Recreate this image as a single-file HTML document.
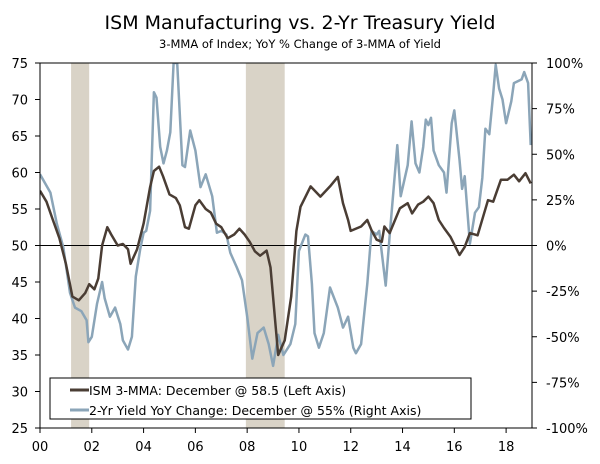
<!DOCTYPE html>
<html><head><meta charset="utf-8"><style>
html,body{margin:0;padding:0;background:#fff;}
svg{display:block;font-family:"DejaVu Sans","Liberation Sans",sans-serif;}
</style></head><body>
<svg id="c" width="600" height="464" viewBox="0 0 600 464">
<text x="300" y="29" text-anchor="middle" font-size="19" fill="#000">ISM Manufacturing vs. 2-Yr Treasury Yield</text>
<text x="300" y="48" text-anchor="middle" font-size="11.5" fill="#000">3-MMA of Index; YoY % Change of 3-MMA of Yield</text>
<defs><clipPath id="pc"><rect x="40" y="63" width="492" height="365"/></clipPath></defs>
<g id="rec"></g><g id="grid"></g><g id="series" clip-path="url(#pc)"></g><g id="axes"></g>
<g>
<rect x="50" y="378" width="421" height="41" fill="#fff" stroke="#000" stroke-width="1"/>
<line x1="70" y1="390" x2="89" y2="390" stroke="#4a3d34" stroke-width="3"/>
<text x="89" y="395" font-size="12.5">ISM 3-MMA: December @ 58.5 (Left Axis)</text>
<line x1="70" y1="410" x2="89" y2="410" stroke="#8ba5b8" stroke-width="3"/>
<text x="89" y="415" font-size="12.5">2-Yr Yield YoY Change: December @ 55% (Right Axis)</text>
</g>
</svg>
<script>
const recessions=[[2001.2,2001.9],[2007.95,2009.45]];
const ismYears=[2000.0,2000.25,2000.5,2000.75,2001.0,2001.25,2001.5,2001.75,2001.9,2002.1,2002.25,2002.4,2002.6,2002.75,2003.0,2003.2,2003.4,2003.5,2003.75,2004.0,2004.25,2004.4,2004.6,2004.75,2005.0,2005.25,2005.4,2005.6,2005.75,2006.0,2006.15,2006.4,2006.6,2006.8,2007.0,2007.25,2007.5,2007.7,2007.9,2008.1,2008.3,2008.5,2008.75,2008.9,2009.1,2009.2,2009.45,2009.7,2009.9,2010.06,2010.45,2010.83,2011.2,2011.5,2011.7,2011.9,2012.0,2012.4,2012.64,2012.8,2013.0,2013.2,2013.3,2013.5,2013.9,2014.2,2014.37,2014.6,2014.8,2015.0,2015.2,2015.4,2015.6,2015.85,2016.2,2016.4,2016.6,2016.9,2017.3,2017.5,2017.8,2018.05,2018.3,2018.5,2018.75,2018.95];
const ismValues=[57.5,56,53.5,51,47.5,43,42.5,43.5,44.7,44,45.5,50,52.5,51.5,50,50.2,49.5,47.5,49.5,53,58,60.2,60.8,59.5,57,56.5,55.5,52.5,52.3,55.5,56.2,55,54.5,53,52.5,51,51.5,52.3,51.5,50.5,49.2,48.6,49.3,47,39,35,37,43,52,55.3,58.1,56.7,58.1,59.4,55.8,53.5,52,52.6,53.5,52.1,50.8,50.5,52.6,51.7,55.1,55.8,54.4,55.6,56,56.7,55.8,53.5,52.4,51.2,48.7,49.8,51.7,51.4,56.2,56,59,59,59.7,58.8,59.9,58.5];
const yldYears=[2000.0,2000.4,2000.65,2000.9,2001.16,2001.35,2001.6,2001.8,2001.87,2002.0,2002.2,2002.4,2002.5,2002.7,2002.9,2003.1,2003.2,2003.4,2003.55,2003.7,2003.87,2004.0,2004.1,2004.25,2004.4,2004.5,2004.64,2004.77,2004.9,2005.03,2005.16,2005.3,2005.5,2005.6,2005.8,2006.0,2006.2,2006.4,2006.65,2006.83,2007.0,2007.2,2007.35,2007.6,2007.8,2008.0,2008.2,2008.4,2008.64,2008.83,2009.0,2009.2,2009.4,2009.67,2009.86,2010.0,2010.25,2010.35,2010.5,2010.6,2010.77,2010.96,2011.2,2011.5,2011.7,2011.9,2012.1,2012.2,2012.4,2012.64,2012.8,2013.0,2013.1,2013.35,2013.5,2013.8,2013.93,2014.2,2014.35,2014.5,2014.65,2014.8,2014.9,2015.0,2015.1,2015.2,2015.4,2015.6,2015.7,2015.9,2016.0,2016.2,2016.3,2016.4,2016.6,2016.8,2016.95,2017.08,2017.2,2017.35,2017.5,2017.6,2017.73,2017.86,2018.0,2018.2,2018.3,2018.6,2018.7,2018.85,2018.95];
const yldValues=[39,29,12,-1,-26,-34,-36,-41,-53,-50,-32,-20,-29,-39,-34,-43,-52,-57,-50,-17,-2,7,8,19,84,81,54,45,52,62,100,100,44,43,63,52,32,39,27,7,8,6,-4,-12,-19,-39,-62,-48,-45,-54,-66,-49,-60,-54,-43,-3,6,5,-21,-48,-56,-48,-23,-34,-45,-39,-56,-59,-54,-21,8,6,8,-22,5,55,27,44,68,45,40,54,69,66,70,52,44,40,29,67,74,47,31,38,1,18,21,37,64,61,83,99,86,80,67,79,89,91,95,89,55];
const leftTicks=[25,30,35,40,45,50,55,60,65,70,75];
const rightTicks=[-100,-75,-50,-25,0,25,50,75,100];
const xTickYears=[2000,2002,2004,2006,2008,2010,2012,2014,2016,2018];
const xTickLabels=["00","02","04","06","08","10","12","14","16","18"];

const X0=40,X1=532,Y0=63,Y1=428;
const xs=y=>X0+(y-2000)/19*(X1-X0);
const yL=v=>Y1-(v-25)/50*(Y1-Y0);
const yR=v=>Y1-(v+100)/200*(Y1-Y0);
const NS="http://www.w3.org/2000/svg";
function mk(tag,attrs,parent){const e=document.createElementNS(NS,tag);for(const k in attrs)e.setAttribute(k,attrs[k]);document.getElementById(parent).appendChild(e);return e;}

recessions.forEach(r=>{
 const e=mk('rect',{x:xs(r[0]),y:Y0,width:xs(r[1])-xs(r[0]),height:Y1-Y0,fill:'#d9d3c7'},'rec');
 
 
});
const zl=mk('line',{x1:X0,x2:X1,y1:yR(0),y2:yR(0),stroke:'#000','stroke-width':1},'grid');



function path(xv,yv,f){return xv.map((x,i)=>(i?'L':'M')+xs(x).toFixed(1)+','+f(yv[i]).toFixed(1)).join('');}
const py=mk('path',{d:path(yldYears,yldValues,yR),fill:'none',stroke:'#8ba5b8','stroke-width':2.5,'stroke-linejoin':'round'},'series');


const pi=mk('path',{d:path(ismYears,ismValues,yL),fill:'none',stroke:'#4a3d34','stroke-width':2.5,'stroke-linejoin':'round'},'series');



const frame=mk('path',{d:`M${X0},${Y0}H${X1}V${Y1}H${X0}Z`,fill:'none',stroke:'#000','stroke-width':1},'axes');


leftTicks.forEach(v=>{
 mk('line',{x1:X0-5,x2:X0,y1:yL(v),y2:yL(v),stroke:'#000'},'axes');
 const t=mk('text',{x:28,y:yL(v)+5,'text-anchor':'end','font-size':13},'axes');t.textContent=v;
 
 
});
rightTicks.forEach(v=>{
 mk('line',{x1:X1,x2:X1+5,y1:yR(v),y2:yR(v),stroke:'#000'},'axes');
 const t=mk('text',{x:546,y:yR(v)+5,'text-anchor':'start','font-size':13},'axes');t.textContent=v+'%';
 
 
});
xTickYears.forEach((y,i)=>{
 mk('line',{x1:xs(y),x2:xs(y),y1:Y1,y2:Y1+5,stroke:'#000'},'axes');
 const t=mk('text',{x:xs(y),y:451,'text-anchor':'middle','font-size':13},'axes');t.textContent=xTickLabels[i];
 
 
});
</script>
</body></html>
